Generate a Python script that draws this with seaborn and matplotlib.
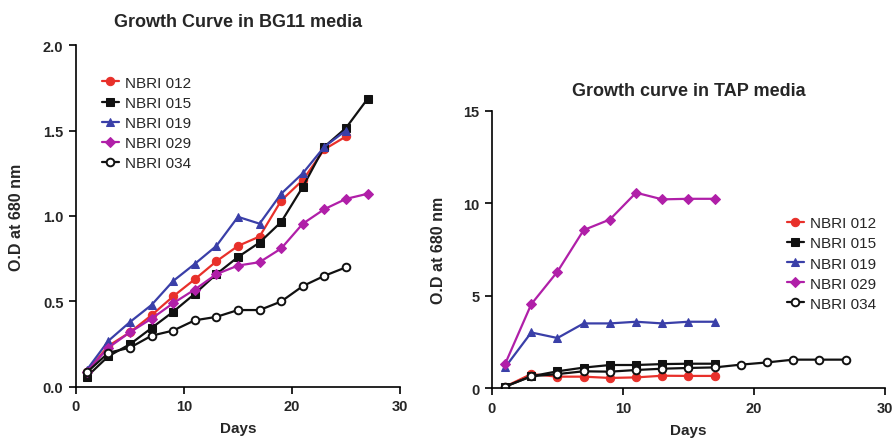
import matplotlib
matplotlib.use("Agg")
import matplotlib.pyplot as plt
import seaborn as sns
import pandas as pd

# ---- data: BG11 media ----
bg_days_25 = [1, 3, 5, 7, 9, 11, 13, 15, 17, 19, 21, 23, 25]
bg_days_27 = [1, 3, 5, 7, 9, 11, 13, 15, 17, 19, 21, 23, 25, 27]
bg_012 = [0.09, 0.24, 0.32, 0.42, 0.53, 0.63, 0.735, 0.825, 0.88, 1.09, 1.21, 1.39, 1.465]
bg_015 = [0.06, 0.18, 0.25, 0.345, 0.44, 0.545, 0.66, 0.76, 0.845, 0.965, 1.17, 1.405, 1.515, 1.685]
bg_019 = [0.10, 0.27, 0.38, 0.48, 0.62, 0.72, 0.825, 0.995, 0.955, 1.13, 1.25, 1.405, 1.50]
bg_029 = [0.09, 0.23, 0.32, 0.40, 0.49, 0.57, 0.66, 0.71, 0.73, 0.81, 0.955, 1.04, 1.10, 1.13]
bg_034 = [0.085, 0.20, 0.23, 0.30, 0.33, 0.39, 0.41, 0.45, 0.45, 0.50, 0.59, 0.65, 0.70]

# ---- data: TAP media ----
tap_days_17 = [1, 3, 5, 7, 9, 11, 13, 15, 17]
tap_days_27 = [1, 3, 5, 7, 9, 11, 13, 15, 17, 19, 21, 23, 25, 27]
tap_012 = [0.09, 0.77, 0.63, 0.63, 0.56, 0.59, 0.68, 0.67, 0.67]
tap_015 = [0.09, 0.65, 0.92, 1.12, 1.26, 1.26, 1.31, 1.33, 1.33]
tap_019 = [1.13, 3.02, 2.72, 3.51, 3.51, 3.60, 3.51, 3.60, 3.60]
tap_029 = [1.31, 4.55, 6.31, 8.56, 9.13, 10.58, 10.22, 10.25, 10.25]
tap_034 = [0.09, 0.65, 0.77, 0.92, 0.90, 0.99, 1.06, 1.10, 1.13, 1.28, 1.40, 1.55, 1.55, 1.55]

labels = ["NBRI 012", "NBRI 015", "NBRI 019", "NBRI 029", "NBRI 034"]
colors = ["#e8302a", "#111111", "#3a3fa8", "#b01fa8", "#111111"]
markers = ["o", "s", "^", "D", "o"]

bg_xticks = ["0", "10", "20", "30"]
bg_yticks = ["0.0", "0.5", "1.0", "1.5", "2.0"]
tap_yticks = ["0", "5", "10", "15"]

sns.set_theme(style="white")
plt.rcParams["font.family"] = ["Liberation Sans", "DejaVu Sans"]

fig = plt.figure(figsize=(8.94, 4.39), dpi=100)
ax1 = fig.add_axes([0.085, 0.1162, 0.3624, 0.779])
ax2 = fig.add_axes([0.5503, 0.1132, 0.4396, 0.6317])

bg_series = [(bg_days_25, bg_012), (bg_days_27, bg_015), (bg_days_25, bg_019),
             (bg_days_27, bg_029), (bg_days_25, bg_034)]
tap_series = [(tap_days_17, tap_012), (tap_days_17, tap_015), (tap_days_17, tap_019),
              (tap_days_17, tap_029), (tap_days_27, tap_034)]

def draw(ax, series):
    for (d, v), lab, c, m in zip(series, labels, colors, markers):
        df = pd.DataFrame({"Days": d, "OD": v})
        kw = dict(marker=m, color=c, markersize=6 if m != "D" else 5,
                  linewidth=1.6, markeredgecolor=c, label=lab)
        if lab == "NBRI 034":
            kw["markerfacecolor"] = "white"
            kw["markeredgewidth"] = 1.4
            kw["markersize"] = 5.5
        sns.lineplot(data=df, x="Days", y="OD", ax=ax, **kw)

draw(ax1, bg_series)
draw(ax2, tap_series)

for ax in (ax1, ax2):
    sns.despine(ax=ax)
    ax.spines["left"].set_color("black")
    ax.spines["bottom"].set_color("black")
    ax.spines["left"].set_linewidth(1.2)
    ax.spines["bottom"].set_linewidth(1.2)
    ax.set_xlim(0, 30)
    ax.set_xticks([0, 10, 20, 30])
    ax.set_xticklabels(bg_xticks)
    ax.tick_params(axis="both", direction="out", length=5, width=1.2,
                   color="black", labelsize=10.5, pad=4, left=True, bottom=True)
    ax.set_xlabel("Days", fontsize=11, fontweight="bold")
    ax.set_ylabel("O.D at 680 nm", fontsize=11.5, fontweight="bold")

ax1.set_ylim(0, 2.0)
ax1.set_yticks([0.0, 0.5, 1.0, 1.5, 2.0])
ax1.set_yticklabels(bg_yticks)
ax2.set_ylim(0, 15)
ax2.set_yticks([0, 5, 10, 15])
ax2.set_yticklabels(tap_yticks)
for ax in (ax1, ax2):
    for t in ax.get_xticklabels() + ax.get_yticklabels():
        t.set_fontweight("bold")

ax1.yaxis.set_label_coords(-0.16, 0.5)
ax2.yaxis.set_label_coords(-0.118, 0.5)
ax1.xaxis.set_label_coords(0.5, -0.10)
ax2.xaxis.set_label_coords(0.5, -0.125)

ax1.set_title("Growth Curve in BG11 media", fontsize=13, fontweight="bold", pad=14)
ax2.set_title("Growth curve in TAP media", fontsize=13, fontweight="bold", pad=11.5)

leg_kw = dict(loc="upper left", frameon=False, fontsize=11, handlelength=1.1,
              handletextpad=0.4, labelspacing=0.4, borderaxespad=0, borderpad=0)
ax1.legend(bbox_to_anchor=(0.08, 0.91), **leg_kw)
ax2.legend(bbox_to_anchor=(0.75, 0.62), **leg_kw)

fig.savefig("out.png", dpi=100)
